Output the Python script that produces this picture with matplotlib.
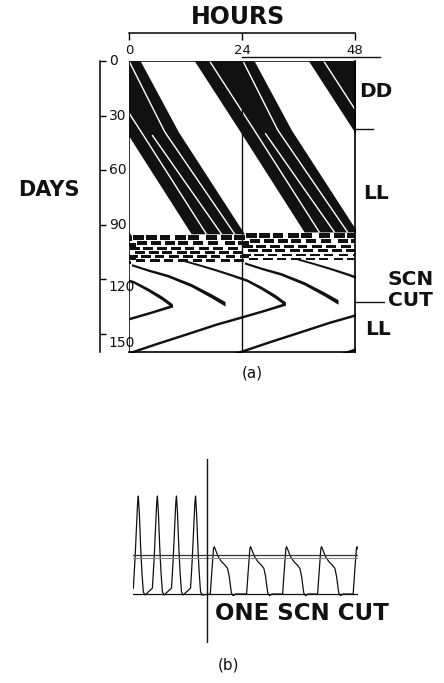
import numpy as np
import matplotlib
matplotlib.use('Agg')
import matplotlib.pyplot as plt

plt.rcParams['font.family'] = ['DejaVu Sans']

# ---- (a) actograma: bandas de actividad, (dia, hora) sin envolver ----
band_days = [-2, 0, 38, 94]
band_on = [13.4, 13.9, 23.4, 37.2]
band_off = [26.2, 26.6, 34.5, 48.5]

gap1_days = [-2, 0, 38, 94]
gap1_h = [16.6, 17.1, 26.6, 40.4]
gap2_days = [-2, 0, 38, 94]
gap2_h = [23.8, 24.2, 31.6, 46.4]
gapm_days = [40, 94]
gapm_h = [29.0, 43.6]

# filas de actividad fragmentada (dia, grosor, largo, inicios)
dash_days = [96.8, 100.2, 103.0, 105.4, 107.6, 109.7]
dash_thick = [2.7, 2.2, 1.8, 1.6, 1.4, 1.3]
dash_len = [2.3, 2.2, 2.1, 2.1, 2.0, 2.0]
dash_starts = [
    [0.8, 3.7, 6.5, 9.7, 12.5, 16.4, 19.5, 22.4],
    [1.6, 4.7, 7.6, 10.4, 13.6, 16.8, 20.3, 23.2],
    [0.2, 2.9, 6.0, 8.9, 11.8, 14.9, 17.9, 21.0],
    [1.2, 4.2, 7.1, 10.2, 13.0, 16.1, 19.2, 22.1],
    [0.0, 2.6, 5.5, 8.6, 11.5, 14.5, 17.4, 20.6, 23.5],
    [1.4, 4.5, 7.4, 10.5, 13.6, 16.3, 19.5, 22.4],
]

# despues del corte: curvas (hora, dia, grosor en dias)
arcA_h = [0.5, 4.1, 8.2, 13.2, 17.4, 20.4]
arcA_d = [112.0, 115.0, 118.0, 123.2, 129.0, 133.5]
arcA_t = [1.2, 1.3, 1.5, 1.8, 2.2, 2.5]

armQ_h = [11.5, 15.0, 18.5, 21.5, 25.0, 28.0, 31.0, 33.2]
armQ_d = [109.6, 112.2, 114.9, 117.4, 120.5, 124.6, 129.3, 133.5]
armQ_t = [1.1, 1.1, 1.2, 1.3, 1.5, 1.8, 2.1, 2.1]

armP_h = [33.2, 28.6, 24.2, 18.5, 12.0, 6.0, 0.5, -3.0]
armP_d = [133.5, 137.2, 140.5, 144.7, 150.2, 155.2, 160.0, 163.0]
armP_t = [1.6, 1.4, 1.4, 1.4, 1.4, 1.4, 1.4, 1.4]

hour_ticks = [0, 24, 48]
day_ticks = [0, 30, 60, 90, 120, 150]
day_label_shift = [0, 0, 0, 0, 4.5, 5.0]
marker_days = [37.5, 132.3]

# ---- (b) registro ----
pre_peaks = [6.7, 30.7, 54.7, 78.7]
pre_dt = [-6.3, -4.2, -2.1, -0.9, 0, 1.3, 2.9, 4.6, 6.3, 8.4]
pre_val = [0.06, 0.35, 0.72, 0.93, 1.0, 0.82, 0.48, 0.21, 0.02, -0.01]
post_peaks = [102.2, 147.9, 193.2, 237.2, 281.9]
post_dt = [-5.0, -2.9, -0.9, 0, 5.0, 9.2, 13.4, 16.7, 18.9, 20.5, 21.7, 23.9, 27.0]
post_val = [0.0, 0.245, 0.466, 0.483, 0.381, 0.330, 0.296, 0.262, 0.177, 0.075, 0.007, -0.017, 0.0]
cut_time = 93
thresh_levels = [0.398, 0.370]

W, H = 444, 683
fig = plt.figure(figsize=(W / 100, H / 100), dpi=100)
ink = '#111111'

ax = fig.add_axes([129 / W, 1 - 352 / H, 226 / W, 291 / H])
ax.set_xlim(0, 48)
ax.set_ylim(160, 0)

copies = range(-3, 3)

# banda principal
for k in copies:
    ax.fill_betweenx(np.array(band_days) - k, np.array(band_on) + 24 * k,
                     np.array(band_off) + 24 * k, color=ink, lw=0)
# lineas blancas dentro de la banda
for dd, hh in [(gap1_days, gap1_h), (gap2_days, gap2_h), (gapm_days, gapm_h)]:
    for k in copies:
        ax.plot(np.array(hh) + 24 * k, np.array(dd) - k, color='white', lw=1.0)

# guiones
for day, th, ln, starts in zip(dash_days, dash_thick, dash_len, dash_starts):
    for k in copies:
        ax.broken_barh([(s + 24 * k, ln) for s in starts], (day - k - th / 2, th),
                       facecolors=ink, lw=0)

# curvas despues del corte
for hh, dd, tt in [(arcA_h, arcA_d, arcA_t), (armQ_h, armQ_d, armQ_t), (armP_h, armP_d, armP_t)]:
    hh, dd, tt = np.array(hh), np.array(dd), np.array(tt)
    for k in copies:
        ax.fill_between(hh + 24 * k, dd - k - tt / 2, dd - k + tt / 2, color=ink, lw=0)

# marco
ax.axvline(24, color=ink, lw=1.0)
ax.axvline(0, color=ink, lw=1.2)
ax.axhline(0, color=ink, lw=1.2)
ax.plot([0.5, 1.11], [1.013, 1.013], transform=ax.transAxes, color=ink, lw=1.0, clip_on=False)
for s in ['right', 'bottom']:
    ax.spines[s].set_linewidth(1.2)
ax.spines['left'].set_position(('outward', 21))
ax.spines['top'].set_position(('outward', 20))
ax.spines['left'].set_linewidth(1.1)
ax.spines['top'].set_linewidth(1.1)
ax.set_xticks(hour_ticks)
ax.set_yticks(day_ticks)
ax.tick_params(axis='x', bottom=False, top=True, labelbottom=False, labeltop=False,
               direction='in', length=5, width=1.0)
ax.tick_params(axis='y', left=True, labelleft=False, direction='in', length=4.5, width=1.0)

xt = ax.get_xaxis_transform()
yt = ax.get_yaxis_transform()
for h in hour_ticks:
    ax.text(h, 1.036, str(h), transform=xt, ha='center', va='center', fontsize=9.5, color=ink)
for d, sh in zip(day_ticks, day_label_shift):
    ax.text(-0.09, d + sh, str(d), transform=yt, ha='left', va='center', fontsize=10, color=ink)

ax.text(0.482, 1.151, 'HOURS', transform=ax.transAxes, ha='center', va='center',
        fontsize=17, fontweight='bold', color=ink)
ax.text(-0.356, 0.557, 'DAYS', transform=ax.transAxes, ha='center', va='center',
        fontsize=15, fontweight='bold', color=ink)
ax.text(0.544, -0.072, '(a)', transform=ax.transAxes, ha='center', va='center',
        fontsize=11, color=ink)

# marcas a la derecha
ax.plot([1.0, 1.08], [marker_days[0]] * 2, transform=yt, color=ink, lw=1.0, clip_on=False)
ax.plot([1.0, 1.128], [marker_days[1]] * 2, transform=yt, color=ink, lw=1.0, clip_on=False)
right_labels = [('DD', 1.018, 17.0), ('LL', 1.035, 72.6), ('SCN', 1.146, 120.1),
                ('CUT', 1.146, 131.7), ('LL', 1.044, 147.9)]
for txt, xa, d in right_labels:
    ax.text(xa, d, txt, transform=yt, ha='left', va='center', fontsize=14.5,
            fontweight='bold', color=ink)

# ---- (b) ----
ax2 = fig.add_axes([133 / W, 1 - 643 / H, 225 / W, 184 / H])
ax2.set_xlim(0, 283)
ax2.set_ylim(-0.5, 1.378)
ax2.axis('off')

t = np.concatenate([p + np.array(pre_dt) for p in pre_peaks] +
                   [p + np.array(post_dt) for p in post_peaks])
v = np.concatenate([np.array(pre_val)] * len(pre_peaks) + [np.array(post_val)] * len(post_peaks))
ax2.plot(t, v, color=ink, lw=0.9)
ax2.axhline(0, color=ink, lw=0.9)
ax2.axhline(thresh_levels[0], color='#333333', lw=0.9)
ax2.axhline(thresh_levels[1], color='#888888', lw=0.8)
ax2.axvline(cut_time, color=ink, lw=1.0)
ax2.text(103, -0.194, 'ONE SCN CUT', ha='left', va='center', fontsize=16.5,
         fontweight='bold', color=ink, clip_on=False)

fig.text(228 / W, 1 - 665 / H, '(b)', ha='center', va='center', fontsize=11, color=ink)

fig.savefig('out.png', dpi=100)
